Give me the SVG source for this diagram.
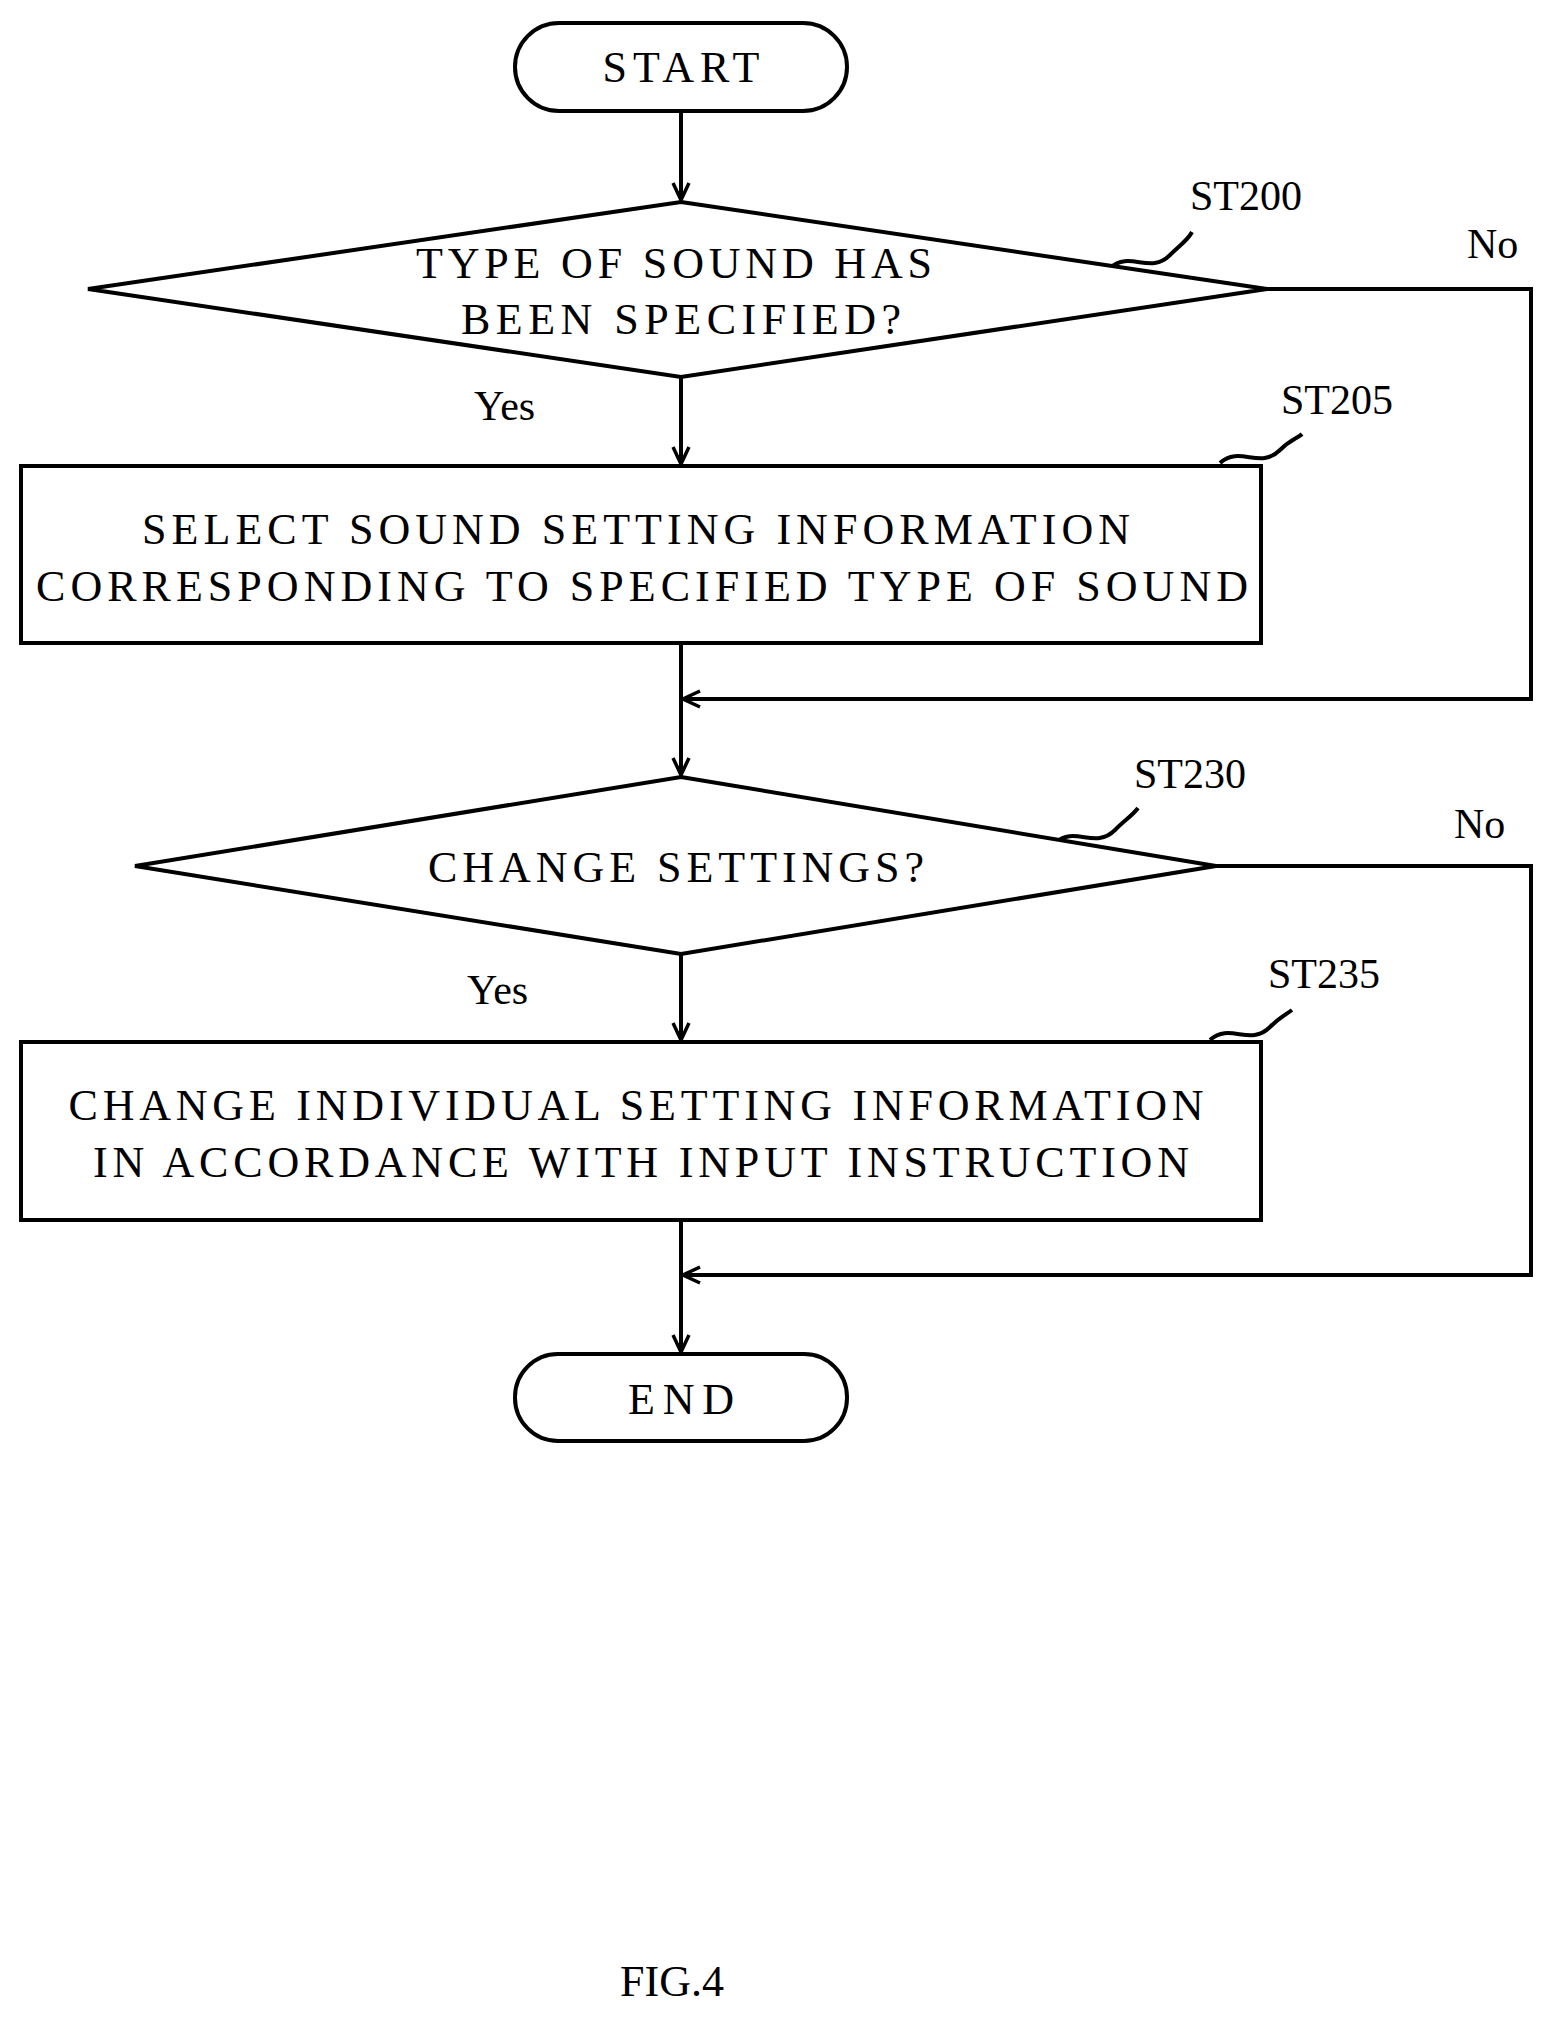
<svg xmlns="http://www.w3.org/2000/svg" width="1557" height="2021" viewBox="0 0 1557 2021">
<style>
.s{fill:#fff;stroke:#000;stroke-width:4}
.l{fill:none;stroke:#000;stroke-width:4}
.t{font-family:"Liberation Serif",serif;font-size:44px;text-anchor:middle;fill:#000}
.lb{font-family:"Liberation Serif",serif;font-size:42px;fill:#000}
</style>
<defs>
<marker id="a" viewBox="0 0 20 20" refX="19" refY="10" markerWidth="20" markerHeight="20" markerUnits="userSpaceOnUse" orient="auto">
<polyline points="2,2 19,10 2,18" fill="none" stroke="#000" stroke-width="3.5"/>
</marker>
</defs>
<g id="connectors">
<line class="l" x1="681" y1="111" x2="681" y2="200" marker-end="url(#a)"/>
<line class="l" x1="681" y1="377" x2="681" y2="464" marker-end="url(#a)"/>
<line class="l" x1="681" y1="643" x2="681" y2="775" marker-end="url(#a)"/>
<polyline class="l" points="1267,289 1531,289 1531,699 683,699" marker-end="url(#a)"/>
<line class="l" x1="681" y1="954" x2="681" y2="1040" marker-end="url(#a)"/>
<line class="l" x1="681" y1="1220" x2="681" y2="1352" marker-end="url(#a)"/>
<polyline class="l" points="1216,866 1531,866 1531,1275 683,1275" marker-end="url(#a)"/>
<path class="l" d="M1110,268 C1130,250 1150,275 1170,255 C1180,245 1188,240 1192,232" stroke-width="3"/>
<path class="l" d="M1220,463 C1240,445 1260,470 1280,450 C1290,440 1298,438 1302,434" stroke-width="3"/>
<path class="l" d="M1055,843 C1075,825 1095,850 1115,830 C1125,820 1133,815 1138,808" stroke-width="3"/>
<path class="l" d="M1210,1040 C1230,1022 1250,1047 1270,1027 C1280,1017 1288,1013 1292,1010" stroke-width="3"/>
<text class="lb" x="1467" y="258">No</text>
<text class="lb" x="474" y="420">Yes</text>
<text class="lb" x="1454" y="838">No</text>
<text class="lb" x="467" y="1004">Yes</text>
</g>
<g id="start"><rect class="s" x="515" y="23" width="332" height="88" rx="44"/><text class="t" x="681" y="82" textLength="157">START</text></g>
<g id="st200"><polygon class="s" points="681,202 1267,289 681,377 88,289"/>
<text class="t" x="674" y="278" textLength="516">TYPE OF SOUND HAS</text><text class="t" x="681" y="334" textLength="440">BEEN SPECIFIED?</text>
<text class="lb" x="1190" y="210">ST200</text></g>
<g id="st205"><rect class="s" x="21" y="466" width="1240" height="177"/>
<text class="t" x="636" y="544" textLength="988">SELECT SOUND SETTING INFORMATION</text><text class="t" x="642" y="601" textLength="1212">CORRESPONDING TO SPECIFIED TYPE OF SOUND</text>
<text class="lb" x="1281" y="414">ST205</text></g>
<g id="st230"><polygon class="s" points="681,777 1216,866 681,954 135,866"/>
<text class="t" x="676" y="882" textLength="496">CHANGE SETTINGS?</text>
<text class="lb" x="1134" y="788">ST230</text></g>
<g id="st235"><rect class="s" x="21" y="1042" width="1240" height="178"/>
<text class="t" x="636" y="1120" textLength="1135">CHANGE INDIVIDUAL SETTING INFORMATION</text><text class="t" x="641" y="1177" textLength="1096">IN ACCORDANCE WITH INPUT INSTRUCTION</text>
<text class="lb" x="1268" y="988">ST235</text></g>
<g id="end"><rect class="s" x="515" y="1354" width="332" height="87" rx="43"/><text class="t" x="681" y="1414" textLength="106">END</text></g>
<text class="t" x="672" y="1996">FIG.4</text>
</svg>
